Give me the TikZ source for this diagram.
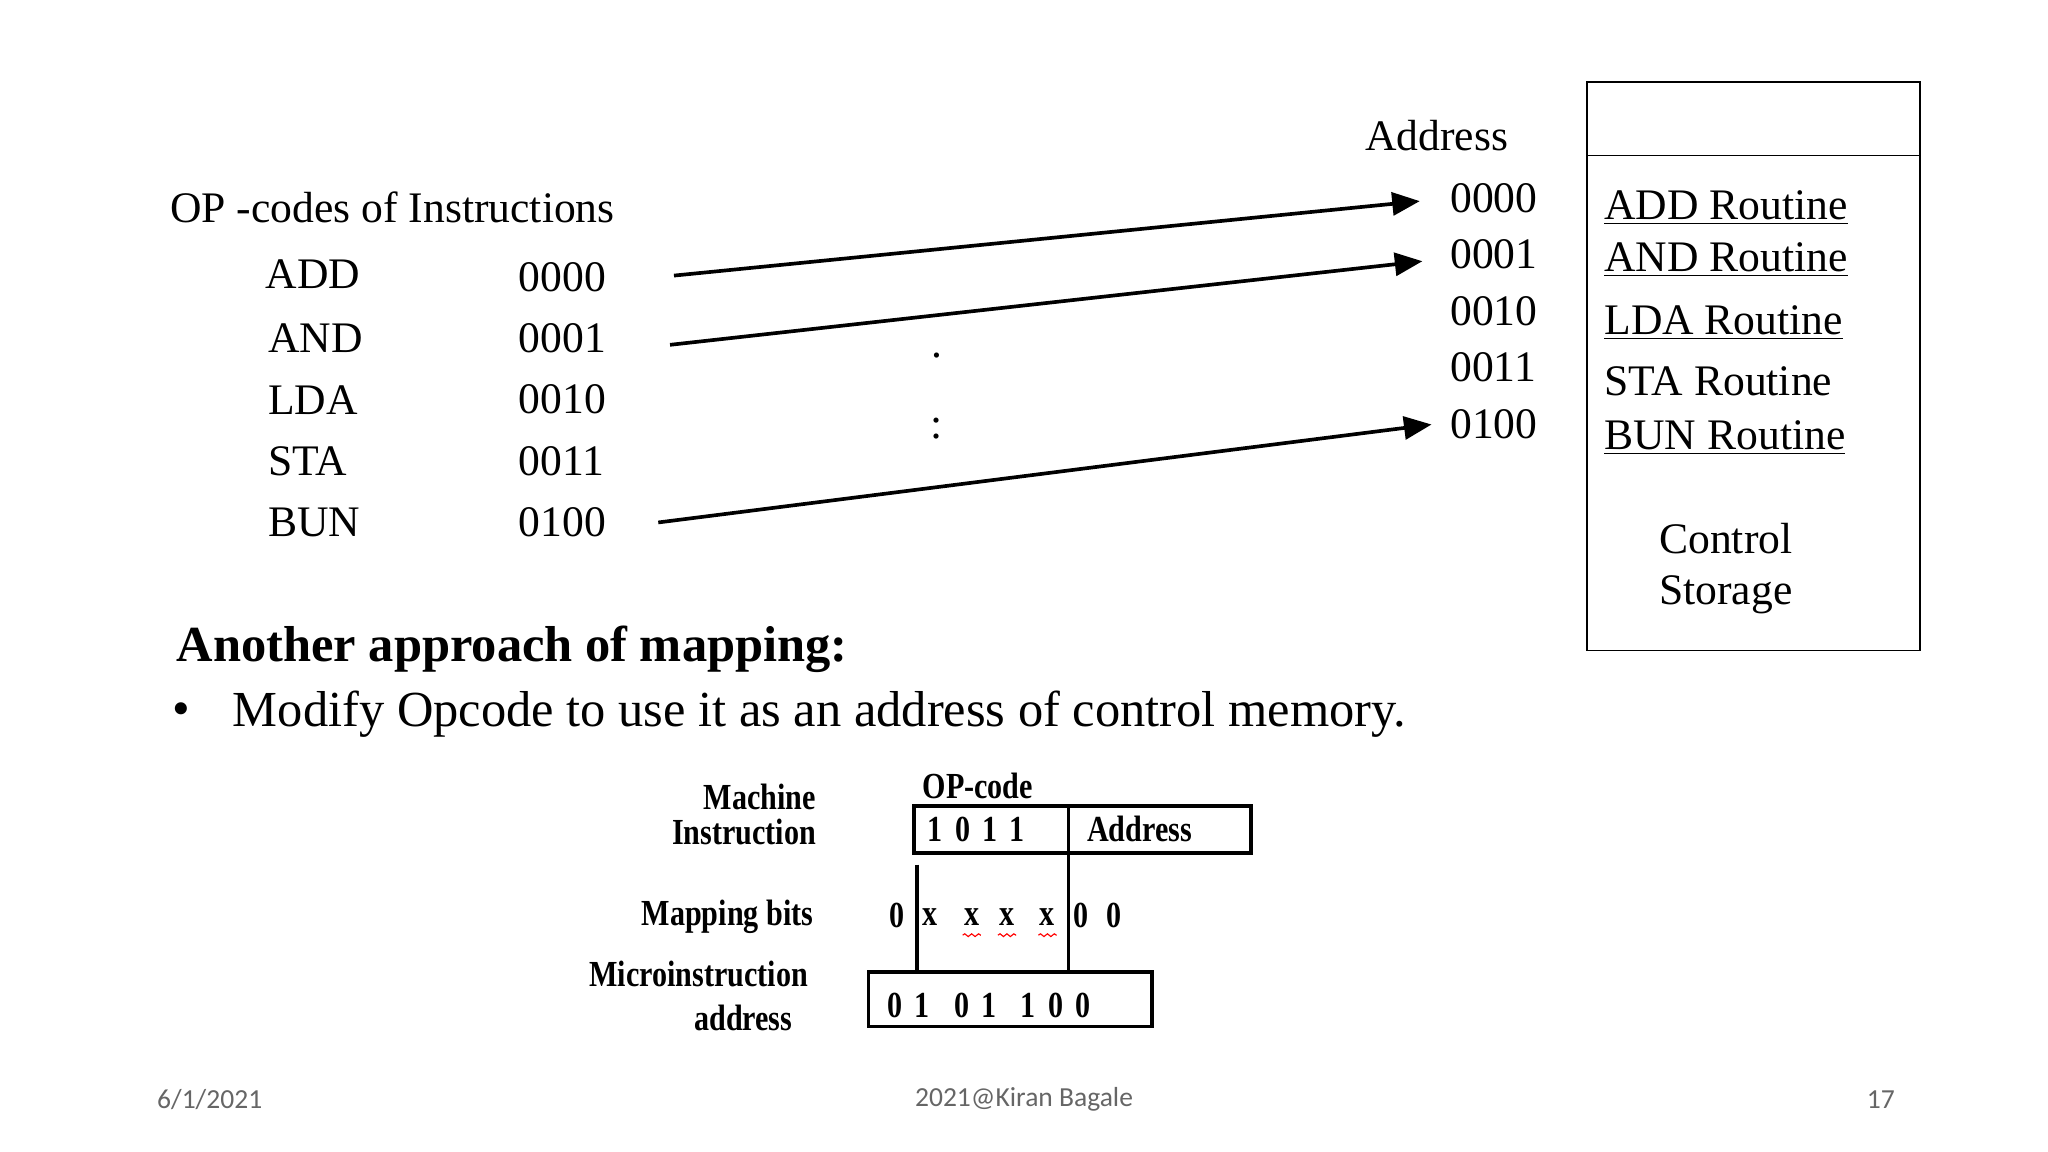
\documentclass[tikz,border=0pt]{standalone}
\usepackage{fontspec}
\setmainfont{Liberation Serif}
\newfontfamily\cond[FakeStretch=0.82]{Liberation Serif}
\newfontfamily\foot{Carlito}
\usetikzlibrary{arrows.meta,decorations.pathmorphing}
\begin{document}
\begin{tikzpicture}[x=0.02cm,y=-0.02cm,
  body/.style={font=\fontsize{19}{21}\selectfont,inner sep=0pt},
  bodyl/.style={body,anchor=west},
  cnd/.style={font=\cond\bfseries\fontsize{16}{18}\selectfont,inner sep=0pt},
  arr/.style={line width=1.6pt,-{Triangle[length=12pt,width=10pt]}},
  bx/.style={line width=1.6pt},
  wav/.style={red,decorate,decoration={snake,amplitude=0.6pt,segment length=3pt},line width=0.5pt}]
\useasboundingbox (0,0) rectangle (1568,882);
\node[bodyl] (title) at (130,159) {OP\ -codes of Instructions};
\foreach \n/\t/\x/\y in {iadd/ADD/203/210,iand/AND/205/259,ilda/LDA/205/306,ista/STA/205/353,ibun/BUN/205/400}
  \node[bodyl] (\n) at (\x,\y) {\t};
\foreach \n/\t/\y in {c0/0000/212,c1/0001/259,c2/0010/306,c3/0011/353,c4/0100/400}
  \node[bodyl] (\n) at (397,\y) {\t};
\node[body] (addr) at (1100,104) {Address};
\foreach \n/\t/\y in {a0/0000/152,a1/0001/195,a2/0010/238,a3/0011/281,a4/0100/325}
  \node[bodyl] (\n) at (1110,\y) {\t};
\coordinate (s0) at (516,211); \coordinate (e0) at (1087,154);
\coordinate (s1) at (513,264); \coordinate (e1) at (1089,200);
\coordinate (s4) at (504,400); \coordinate (e4) at (1096,325);
\draw[arr] (s0) -- (e0);
\draw[arr] (s1) -- (e1);
\draw[arr] (s4) -- (e4);
\node[body] (d1) at (717,272) {.};
\node[body] (d2) at (717,328) {:};
\draw[line width=0.8pt] (1215,63) rectangle (1470,498);
\draw[line width=0.8pt] (1215,119) -- (1470,119);
\node[bodyl] (r0) at (1228,159) {\underline{ADD Routine}};
\node[bodyl] (r1) at (1228,199) {\underline{AND Routine}};
\node[bodyl] (r2) at (1228,247) {\underline{LDA Routine}};
\node[bodyl] (r3) at (1228,292) {STA Routine};
\node[bodyl] (r4) at (1228,335) {\underline{BUN Routine}};
\node[bodyl] (cs1) at (1270,412) {Control};
\node[bodyl] (cs2) at (1270,455) {Storage};
\node[anchor=west,inner sep=0pt,font=\bfseries\fontsize{22}{24}\selectfont] (head) at (135,497) {Another approach of mapping:};
\node[anchor=west,inner sep=0pt,font=\fontsize{22}{24}\selectfont] (bul) at (132,547) {•};
\node[anchor=west,inner sep=0pt,font=\fontsize{22}{24}\selectfont] (mod) at (178,547) {Modify Opcode to use it as an address of control memory.};
% bottom diagram
\node[cnd,anchor=east] (mi1) at (625,610) {Machine};
\node[cnd,anchor=east] (mi2) at (625,637) {Instruction};
\node[cnd,anchor=west] (opc) at (706,602) {OP-code};
\draw[bx] (700,617) rectangle (958,653);
\draw[bx] (818,617) -- (818,653);
\node[cnd,anchor=west] (bits) at (710,635) {1\,\,0\,\,1\,\,1};
\node[cnd,anchor=west] (adr) at (832,635) {Address};
\draw[bx] (702,662) -- (702,744);
\draw[bx] (818,653) -- (818,744);
\node[cnd,anchor=east] (mb) at (623,702) {Mapping bits};
\node[cnd] (m0) at (687,701) {0};
\node[cnd] (m1) at (712,702) {x};
\node[cnd] (m2) at (744,702) {x};
\node[cnd] (m3) at (771,702) {x};
\node[cnd] (m4) at (802,702) {x};
\node[cnd] (m5) at (828,701) {0};
\node[cnd] (m6) at (853,701) {0};
\draw[wav] (737,716) -- (751,716);
\draw[wav] (764,716) -- (778,716);
\draw[wav] (795,716) -- (809,716);
\node[cnd,anchor=east] (ma1) at (619,746) {Microinstruction};
\node[cnd,anchor=east] (ma2) at (607,779) {address};
\draw[bx] (665,744) rectangle (882,786);
\node[cnd,anchor=west] (mv) at (679,770) {0\,\,1\,\,\,\,0\,\,1\,\,\,\,1\,\,0\,\,0};
% footer
\node[anchor=west,inner sep=0pt,font=\foot\fontsize{12}{14}\selectfont,gray!80!black] (f1) at (120,842) {6/1/2021};
\node[inner sep=0pt,font=\foot\fontsize{12}{14}\selectfont,gray!80!black] (f2) at (784,842) {2021@Kiran Bagale};
\node[inner sep=0pt,font=\foot\fontsize{12}{14}\selectfont,gray!80!black] (f3) at (1440,842) {17};
\end{tikzpicture}
\end{document}
